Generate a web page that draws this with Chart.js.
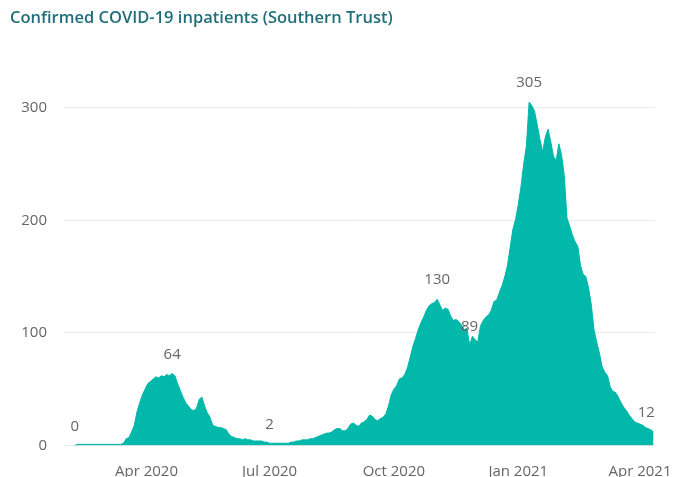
<!DOCTYPE html>
<html>
<head>
<meta charset="utf-8">
<script src="https://cdn.jsdelivr.net/npm/chart.js@4.4.1/dist/chart.umd.min.js"></script>
<style>
  html, body { margin: 0; padding: 0; background: #ffffff; }
  canvas { display: block; }
</style>
</head>
<body>
<canvas id="c" width="681" height="477"></canvas>
<script>
// Days are counted relative to 1 Apr 2020; one reading every STEP_DAYS days
const TITLE = 'Confirmed COVID-19 inpatients (Southern Trust)';
const START_DAY = -53;   // 8 Feb 2020
const STEP_DAYS = 2;
const inpatients = [
  0,1,1,1,1,1,1,1,1,1,
  1,1,1,1,1,1,1,1,2,6,
  7,12,18,30,38,45,50,55,57,59,
  61,60,62,61,63,62,64,62,55,49,
  43,38,35,32,31,33,41,43,35,29,
  25,18,17,16,16,15,14,10,8,7,
  6,6,5,6,5,5,4,4,4,4,
  3,3,2,2,2,2,2,2,2,2,
  3,3,4,4,5,5,5,6,6,7,
  8,9,10,11,11,12,14,15,15,13,
  13,15,19,20,18,17,20,21,23,27,
  26,23,22,24,25,28,35,45,50,53,
  59,60,63,69,78,88,95,103,109,114,
  120,124,126,127,130,125,120,122,121,115,
  111,112,110,107,103,104,89,97,94,92,
  106,111,114,116,120,128,129,136,142,150,
  160,176,192,201,214,230,250,266,305,302,
  297,285,272,261,274,281,270,257,253,268,
  258,240,202,195,187,181,177,160,152,150,
  140,125,103,92,82,70,65,62,52,48,
  47,43,38,34,31,27,24,21,20,19,
  18,16,15,14,12
];
const tickDays = [0, 91, 183, 275, 365];
const tickLabels = ['Apr 2020', 'Jul 2020', 'Oct 2020', 'Jan 2021', 'Apr 2021'];
const labelDays = [-53, 19, 91, 215, 239, 283, 375];
const yTicks = [0, 100, 200, 300];

const FILL = '#01B8AA';
const TEXT = '#666666';
Chart.defaults.font.family = "'Open Sans', 'Noto Sans', sans-serif";

const points = inpatients.map((v, i) => ({ x: START_DAY + i * STEP_DAYS, y: v }));

const titlePlugin = {
  id: 'titleText',
  afterDraw(chart) {
    const ctx = chart.ctx;
    ctx.save();
    ctx.font = "600 16.5px 'Open Sans', sans-serif";
    ctx.fillStyle = '#1F6F7B';
    ctx.textAlign = 'left';
    ctx.textBaseline = 'alphabetic';
    ctx.fillText(TITLE, 10, 23);
    ctx.restore();
  }
};

const labelPlugin = {
  id: 'pointLabels',
  afterDatasetsDraw(chart) {
    const ctx = chart.ctx;
    const meta = chart.getDatasetMeta(0);
    const area = chart.chartArea;
    ctx.save();
    ctx.font = "15px 'Open Sans', sans-serif";
    ctx.fillStyle = TEXT;
    ctx.textAlign = 'center';
    ctx.textBaseline = 'middle';
    labelDays.forEach(d => {
      const idx = Math.round((d - START_DAY) / STEP_DAYS);
      const el = meta.data[idx];
      if (!el) return;
      const txt = String(inpatients[idx]);
      const w = ctx.measureText(txt).width;
      let x = el.x;
      x = Math.min(x, area.right - w / 2);
      x = Math.max(x, area.left + w / 2);
      ctx.fillText(txt, x, el.y - 19);
    });
    ctx.restore();
  }
};

new Chart(document.getElementById('c'), {
  type: 'line',
  data: {
    datasets: [{
      data: points,
      fill: 'origin',
      backgroundColor: FILL,
      borderColor: FILL,
      borderWidth: 1,
      pointRadius: 0,
      stepped: false,
      tension: 0
    }]
  },
  options: {
    responsive: false,
    animation: false,
    devicePixelRatio: 1,
    layout: { padding: { top: 74, right: 21, bottom: 0, left: 0 } },
    plugins: { legend: { display: false }, tooltip: { enabled: false }, title: { display: false } },
    scales: {
      x: {
        type: 'linear',
        min: -61,
        max: 376,
        grid: { display: false },
        border: { display: false },
        afterBuildTicks: s => { s.ticks = tickDays.map(v => ({ value: v })); },
        afterFit: s => { s.height = 31.5; },
        ticks: {
          autoSkip: false,
          maxRotation: 0,
          padding: 9,
          color: TEXT,
          font: { size: 15 },
          callback: (v) => { const k = tickDays.indexOf(v); return k >= 0 ? tickLabels[k] : ''; }
        }
      },
      y: {
        min: 0,
        max: 330,
        grid: { color: '#E9E9E9', lineWidth: 1, drawTicks: false },
        border: { display: false },
        afterBuildTicks: s => { s.ticks = yTicks.map(v => ({ value: v })); },
        afterFit: s => { s.width = 64; },
        ticks: { padding: 17, color: TEXT, font: { size: 15 } }
      }
    }
  },
  plugins: [titlePlugin, labelPlugin]
});
</script>
</body>
</html>
